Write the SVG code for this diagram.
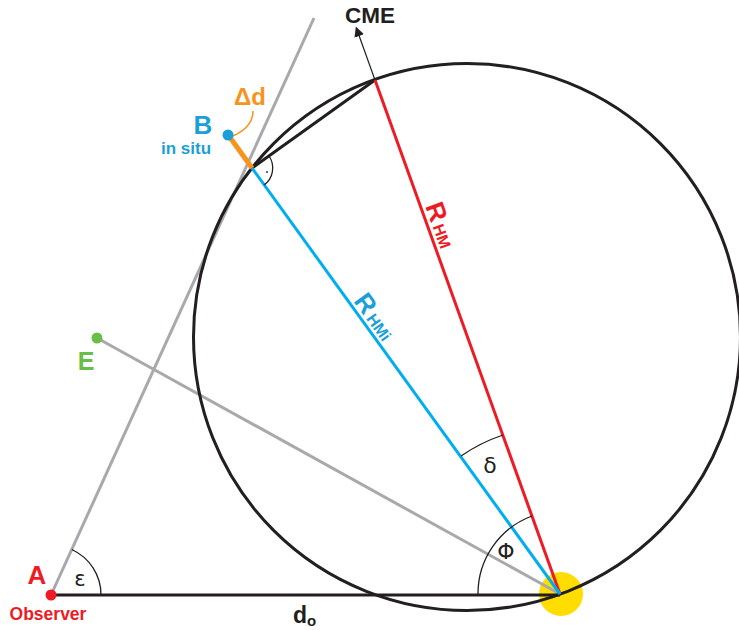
<svg xmlns="http://www.w3.org/2000/svg" width="739" height="630" viewBox="0 0 739 630">
<defs>
<style>
text{font-family:"Liberation Sans",Arial,sans-serif;font-weight:bold}
.thick{fill:none;stroke-width:3}
.blk{stroke:#231f20}
.gray{stroke:#a7a9ac}
.thin{fill:none;stroke:#231f20;stroke-width:1.3}
.greek{font-family:"DejaVu Sans","Liberation Sans",sans-serif;font-weight:normal}
</style>
<marker id="arr" markerWidth="10" markerHeight="10" refX="8" refY="5" orient="auto" markerUnits="userSpaceOnUse">
<path d="M0,0 L10,5 L0,10 Z" fill="#231f20"/>
</marker>
</defs>
<rect width="739" height="630" fill="#fff"/>
<g id="sun"><circle cx="561" cy="594" r="22" fill="#ffdd00"/></g>
<g id="connectors">
<line class="thick gray" x1="51" y1="595" x2="314" y2="18"/>
<line class="thick gray" x1="97" y1="338" x2="560" y2="594"/>
<line class="thick blk" x1="51" y1="595" x2="560" y2="595"/>
<circle class="thick blk" cx="467" cy="337" r="273.5"/>
<line class="thick blk" x1="252" y1="168" x2="375" y2="80"/>
<line class="thick" stroke="#ed1c24" x1="375" y1="80" x2="560" y2="594"/>
<line class="thick" stroke="#00aeef" x1="252" y1="168" x2="560" y2="594"/>
<line stroke="#231f20" stroke-width="1.2" x1="375" y1="80" x2="356.5" y2="28.5" marker-end="url(#arr)"/>
<line stroke="#f7941d" stroke-width="5" x1="229" y1="136" x2="252" y2="168"/>
<path d="M253,111 C253,124 244,131 233,136" fill="none" stroke="#f7941d" stroke-width="1.5"/>
<path class="thin" d="M101,595 A50,50 0 0 0 71.8,549.5"/>
<path class="thin" d="M478,595 A83,83 0 0 1 532,516"/>
<path class="thin" d="M461,456 A169,169 0 0 1 503,435"/>
<path class="thin" d="M269,156 A21,21 0 0 1 264,185"/>
<circle cx="267" cy="172" r="0.9" fill="#231f20"/>
</g>
<g id="A"><circle cx="51" cy="595" r="5.5" fill="#ed1c24"/>
<text x="37" y="584" font-size="26" fill="#ed1c24" text-anchor="middle">A</text>
<text x="48" y="620" font-size="17.5" fill="#ed1c24" text-anchor="middle">Observer</text></g>
<g id="B"><circle cx="228" cy="135" r="5.5" fill="#1b9fd8"/>
<text x="203" y="134" font-size="26" fill="#1b9fd8" text-anchor="middle">B</text>
<text x="186" y="154" font-size="17" fill="#1b9fd8" text-anchor="middle">in situ</text></g>
<g id="dd"><text x="250" y="105" font-size="24" fill="#f7941d" text-anchor="middle">Δd</text></g>
<g id="E"><circle cx="97" cy="338" r="5.5" fill="#6abd45"/>
<text x="86" y="370" font-size="25" fill="#6abd45" text-anchor="middle">E</text></g>
<g id="CME"><text x="370" y="23" font-size="22.5" fill="#231f20" text-anchor="middle">CME</text></g>
<g id="labels">
<text class="greek" x="80" y="586" font-size="21" fill="#231f20" text-anchor="middle">ε</text>
<text class="greek" x="506" y="559" font-size="22" fill="#231f20" text-anchor="middle">Φ</text>
<text class="greek" x="490" y="473" font-size="22" fill="#231f20" text-anchor="middle">δ</text>
<text x="293" y="623" font-size="23" fill="#231f20">d<tspan font-size="15" dy="3">o</tspan></text>
<text transform="translate(425,206) rotate(70.2)" font-size="26" fill="#ed1c24">R<tspan font-size="16" dx="3">HM</tspan></text>
<text transform="translate(353,301) rotate(54.1)" font-size="26" fill="#1b9fd8">R<tspan font-size="16" dx="3">HMi</tspan></text>
</g>
</svg>
